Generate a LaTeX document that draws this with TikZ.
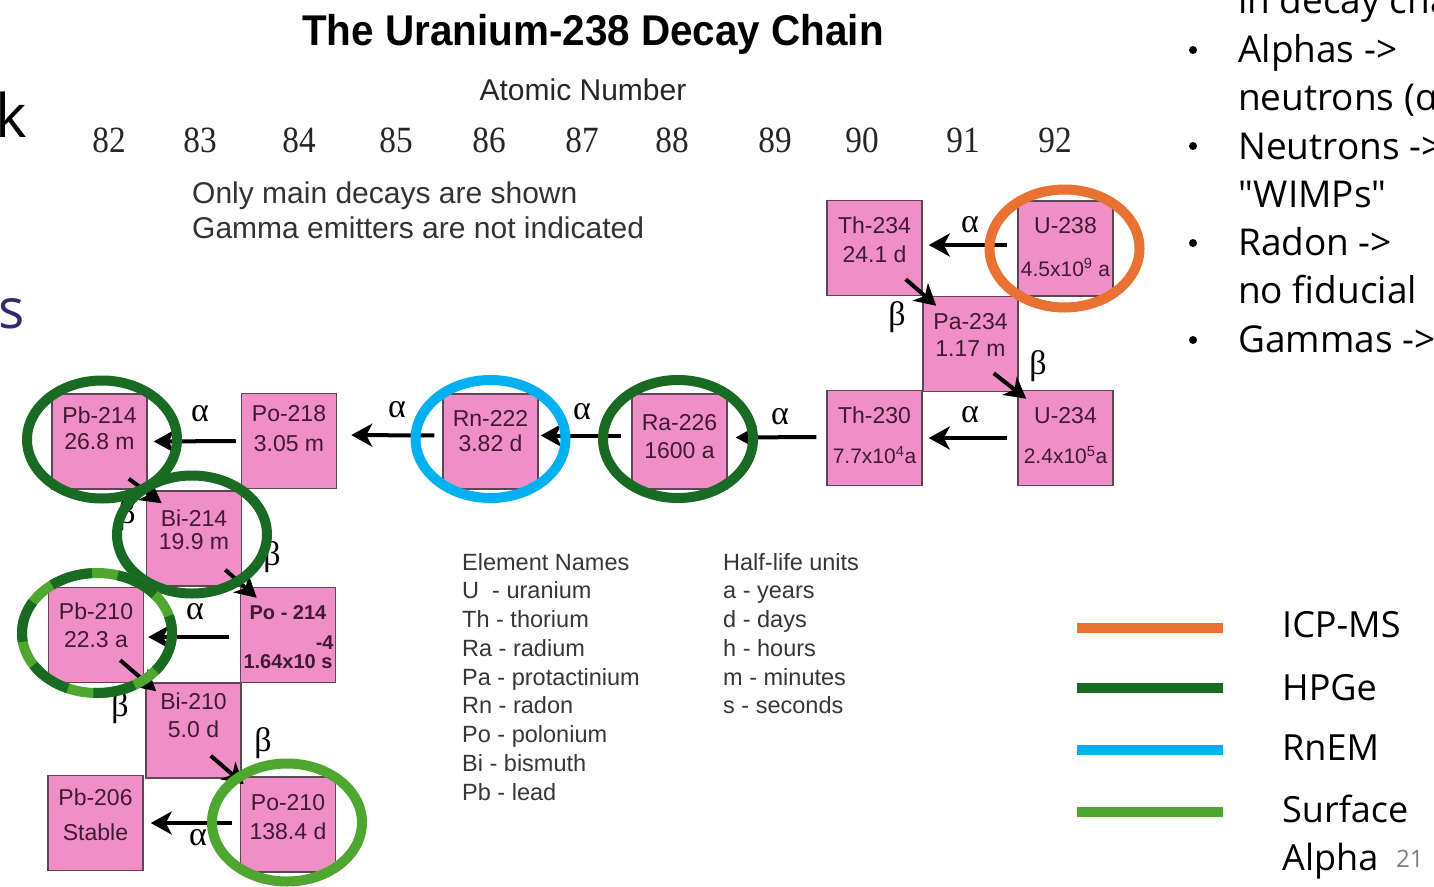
\documentclass[tikz,border=0pt]{standalone}
\usepackage{graphicx}
\usepackage{fontspec}
\setmainfont{Liberation Sans}
\newfontfamily\slidefont{Open Sans}
\newfontfamily\numfont{Liberation Serif}
\usetikzlibrary{arrows.meta,calc}

\definecolor{isofill}{RGB}{240,142,200}
\definecolor{isoedge}{RGB}{95,70,85}
\definecolor{isoink}{RGB}{65,25,50}
\definecolor{ringorange}{RGB}{233,113,50}
\definecolor{ringdark}{RGB}{25,107,36}
\definecolor{ringblue}{RGB}{0,176,240}
\definecolor{ringlight}{RGB}{78,167,46}
\definecolor{slidenavy}{RGB}{46,44,110}
\definecolor{legendink}{RGB}{55,55,55}

\newcommand\fs[1]{\fontsize{#1}{#1}\selectfont}

% one nuclide: name, centre x, centre y, first line, second line, baselines below top edge
\newcommand\isobox[7]{%
  \node[iso] (#1) at (#2,#3) {};
  \node[isotxt] (#1-top) at ($(#1.north)+(0,#6)$) {#4};
  \node[isotxt] (#1-bot) at ($(#1.north)+(0,#7)$) {#5};
}

\begin{document}
\begin{tikzpicture}[x=1pt,y=-1pt,
  iso/.style={draw=isoedge, line width=1.5pt, fill=isofill,
    minimum width=95pt, minimum height=95pt, inner sep=0pt},
  isotxt/.style={anchor=base, inner sep=0pt, text=isoink, font=\fs{23}},
  decay/.style={line width=4pt, -{Stealth[length=21pt,width=23pt,inset=6pt]}},
  greek/.style={font=\numfont\fs{34}, inner sep=0pt},
  atomic/.style={anchor=base, font=\numfont\fs{37}, inner sep=0pt, text=black!85},
  ring/.style={line width=10pt},
  keytxt/.style={anchor=base west, inner sep=0pt, text=legendink, font=\fs{23.5}},
  slide/.style={anchor=base west, inner sep=0pt, font=\slidefont\fs{37}},
  bullet/.style={circle, fill=black, inner sep=0pt, minimum size=8pt},
]
\clip (0,0) rectangle (1434,886);
\fill[white] (0,0) rectangle (1434,886);

% ---------- headings ----------
\node[anchor=base, inner sep=0pt] (title) at (593,45)
  {\scalebox{0.94}[1]{\bfseries\fs{43}The Uranium-238 Decay Chain}};
\node[anchor=base, inner sep=0pt, text=black!85, font=\fs{30}] (axis) at (583,100) {Atomic Number};

\foreach \z/\x in {82/109,83/200,84/299,85/396,86/489,87/582,88/672,89/775,90/862,91/963,92/1055}
  \node[atomic] (z\z) at (\x,152) {\scalebox{0.9}[1]{\z}};

\node[anchor=base west, inner sep=0pt, text=black!80, font=\fs{30}] (note1) at (192,203) {Only main decays are shown};
\node[anchor=base west, inner sep=0pt, text=black!80, font=\fs{30}] (note2) at (192,238) {Gamma emitters are not indicated};

% ---------- nuclides ----------
\isobox{U238}{1065.5}{248.5}{U-238}{{\fs{21}4.5x10\textsuperscript{9} a}}{33}{76}
\isobox{Th234}{874.5}{248}{Th-234}{24.1 d}{34}{63}
\isobox{Pa234}{970.5}{344}{Pa-234}{1.17 m}{34}{61}
\isobox{U234}{1065.5}{438}{U-234}{{\fs{21}2.4x10\textsuperscript{5}a}}{34}{74}
\isobox{Th230}{874.5}{438}{Th-230}{{\fs{21}7.7x10\textsuperscript{4}a}}{34}{74}
\isobox{Ra226}{679.5}{441.5}{Ra-226}{1600 a}{37}{65}
\isobox{Rn222}{490.5}{441.5}{Rn-222}{3.82 d}{33}{58}
\isobox{Po218}{289}{441}{Po-218}{3.05 m}{29}{59}
\isobox{Pb214}{99.5}{441.5}{Pb-214}{26.8 m}{30}{56}
\isobox{Bi214}{194}{538.5}{Bi-214}{19.9 m}{36}{59}
\isobox{Po214}{288}{635}{{\fs{20}\bfseries Po - 214}}%
  {{\fs{20}\bfseries 1.64x10\makebox[0pt][l]{\raisebox{19pt}{-4}}\ s}}{33}{82}
\isobox{Pb210}{96}{635}{Pb-210}{22.3 a}{33}{61}
\isobox{Bi210}{193.5}{730.5}{Bi-210}{5.0 d}{27}{55}
\isobox{Pb206}{95.5}{823}{Pb-206}{Stable}{31}{66}
\isobox{Po210}{288}{824.5}{Po-210}{138.4 d}{34}{63}

% ---------- alpha decays ----------
\draw[decay, shorten <=10pt, shorten >=6pt] ([yshift=3.5pt]U238.west) -- ([yshift=3pt]Th234.east);
\draw[decay, shorten <=10pt, shorten >=6pt] (U234.west) -- (Th230.east);
\draw[decay, shorten <=10pt, shorten >=8pt] ([yshift=1pt]Th230.west) -- ([yshift=4pt]Ra226.east);
\draw[decay, shorten <=10pt, shorten >=2pt] ([yshift=6pt]Ra226.west) -- ([yshift=6pt]Rn222.east);
\draw[decay, shorten <=8pt, shorten >=14pt] ([yshift=6pt]Rn222.west) -- ([yshift=6pt]Po218.east);
\draw[decay, shorten <=5pt, shorten >=6pt] (Po218.west) -- (Pb214.east);
\draw[decay, shorten <=11pt, shorten >=4pt] ([yshift=-2pt]Po214.west) -- ([yshift=-2pt]Pb210.east);
\draw[decay, shorten <=8pt, shorten >=7pt] ([yshift=1.5pt]Po210.west) -- (Pb206.east);

% ---------- beta decays ----------
\draw[decay] ([shift={(-17,-17)}]Th234.south east) -- ([shift={(14,10)}]Pa234.north west);
\draw[decay] ([shift={(-25,-19)}]Pa234.south east) -- ([shift={(9,9)}]U234.north west);
\draw[decay] ([shift={(-19,-11)}]Pb214.south east) -- ([shift={(16,13)}]Bi214.north west);
\draw[decay] ([shift={(-17,-17)}]Bi214.south east) -- ([shift={(17,11)}]Po214.north west);
\draw[decay] ([shift={(-24,-23)}]Pb210.south east) -- ([shift={(11,9)}]Bi210.north west);
\draw[decay] ([shift={(-31,-23)}]Bi210.south east) -- ([shift={(4,8)}]Po210.north west);

% ---------- decay labels ----------
\node[greek] (a1) at (970,225) {α};
\node[greek] (a2) at (970,415) {α};
\node[greek] (a3) at (780,417) {α};
\node[greek] (a4) at (582,412) {α};
\node[greek] (a5) at (397,410) {α};
\node[greek] (a6) at (200,414) {α};
\node[greek] (a7) at (195,612) {α};
\node[greek] (a8) at (198,838) {α};
\node[greek] (b1) at (897,317) {β};
\node[greek] (b2) at (1038,366) {β};
\node[greek] (b3) at (127,515) {β};
\node[greek] (b4) at (272,557) {β};
\node[greek] (b5) at (120,708) {β};
\node[greek] (b6) at (263,743) {β};

% ---------- measurement rings ----------
\draw[ring, ringorange] ([xshift=-1pt]U238.center) ellipse [x radius=75, y radius=59];
\draw[ring, ringblue]   ([yshift=2.5pt]Rn222.center) ellipse [x radius=75, y radius=59];
\draw[ring, ringdark]   ([shift={(-1.5,-2.5)}]Ra226.center) ellipse [x radius=75, y radius=59];
\draw[ring, ringdark]   ([shift={(2.5,-2)}]Pb214.center) ellipse [x radius=75, y radius=59];
\draw[ring, ringdark]   ([shift={(-2,-4)}]Bi214.center) ellipse [x radius=75, y radius=59];
\draw[ring, ringlight]  ([shift={(1,-2)}]Pb210.center) ellipse [x radius=75, y radius=60];
\draw[ring, ringdark, dash pattern=on 42pt off 26pt]
                        ([shift={(1,-2)}]Pb210.center) ellipse [x radius=75, y radius=60];
\draw[ring, ringlight]  ([shift={(-1,-2)}]Po210.center) ellipse [x radius=75, y radius=59];

% ---------- key ----------
\node[keytxt] (k0) at (462,570) {Element Names};
\foreach \t [count=\i] in {U\ \ - uranium, Th - thorium, Ra - radium, Pa - protactinium,
    Rn - radon, Po - polonium, Bi - bismuth, Pb - lead}
  \node[keytxt] (k\i) at (462,{570+28.75*\i}) {\t};
\node[keytxt] (h0) at (723,570) {Half-life units};
\foreach \t [count=\i] in {a - years, d - days, h - hours, m - minutes, s - seconds}
  \node[keytxt] (h\i) at (723,{570+28.75*\i}) {\t};

% ---------- method legend ----------
\draw[ringorange, line width=10pt] (1077,628) -- (1223,628);
\draw[ringdark,   line width=10pt] (1077,688) -- (1223,688);
\draw[ringblue,   line width=10pt] (1077,750) -- (1223,750);
\draw[ringlight,  line width=10pt] (1077,812) -- (1223,812);
\node[slide, font=\slidefont\fs{36}] (m1) at (1282,637) {ICP-MS};
\node[slide, font=\slidefont\fs{36}] (m2) at (1282,700) {HPGe};
\node[slide, font=\slidefont\fs{36}] (m3) at (1282,760) {RnEM};
\node[slide, font=\slidefont\fs{36}] (m4) at (1282,822) {Surface};
\node[slide, font=\slidefont\fs{36}] (m5) at (1282,870) {Alpha};
\node[anchor=base west, inner sep=0pt, text=black!50, font=\slidefont\fs{24}] (pg) at (1396,867) {21};

% ---------- slide text ----------
\node[slide] (s0) at (1238,13) {in decay chain};
\node[bullet] (d1) at (1193,50) {};
\node[slide] (s1) at (1238,62) {Alphas ->};
\node[slide] (s2) at (1238,110) {neutrons (α};
\node[bullet] (d2) at (1193,146) {};
\node[slide] (s3) at (1238,159) {Neutrons ->};
\node[slide] (s4) at (1238,207) {"WIMPs"};
\node[bullet] (d3) at (1193,243) {};
\node[slide] (s5) at (1238,255) {Radon ->};
\node[slide] (s6) at (1238,303) {no fiducial};
\node[bullet] (d4) at (1193,340) {};
\node[slide] (s7) at (1238,352) {Gammas ->};
\node[anchor=base west, inner sep=0pt, font=\slidefont\fs{60}] (lk) at (-5,137) {k};
\node[anchor=base west, inner sep=0pt, text=slidenavy, font=\slidefont\fs{55}] (ls) at (-2,328) {s};
\end{tikzpicture}
\end{document}
